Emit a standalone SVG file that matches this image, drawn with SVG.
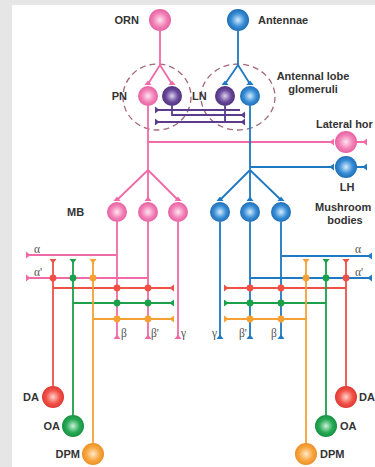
<svg xmlns="http://www.w3.org/2000/svg" xmlns:xlink="http://www.w3.org/1999/xlink" width="375" height="467" viewBox="0 0 375 467">
<defs>
<radialGradient id="gP" cx="50%" cy="50%" r="55%"><stop offset="0" stop-color="#fde6f1"/><stop offset="0.55" stop-color="#f383b8"/><stop offset="1" stop-color="#e2579c"/></radialGradient>
<radialGradient id="gB" cx="50%" cy="50%" r="55%"><stop offset="0" stop-color="#d6ebff"/><stop offset="0.55" stop-color="#3a8fd6"/><stop offset="1" stop-color="#1663ae"/></radialGradient>
<radialGradient id="gU" cx="50%" cy="50%" r="55%"><stop offset="0" stop-color="#ddd2ee"/><stop offset="0.55" stop-color="#6b4b9c"/><stop offset="1" stop-color="#472a78"/></radialGradient>
<radialGradient id="gR" cx="50%" cy="50%" r="55%"><stop offset="0" stop-color="#ffd6cc"/><stop offset="0.55" stop-color="#f2554b"/><stop offset="1" stop-color="#d8302a"/></radialGradient>
<radialGradient id="gG" cx="50%" cy="50%" r="55%"><stop offset="0" stop-color="#cdf1d8"/><stop offset="0.55" stop-color="#2aab58"/><stop offset="1" stop-color="#0f8a3a"/></radialGradient>
<radialGradient id="gO" cx="50%" cy="50%" r="55%"><stop offset="0" stop-color="#ffe9c8"/><stop offset="0.55" stop-color="#f8a843"/><stop offset="1" stop-color="#e8891c"/></radialGradient>
<path id="cap" d="M0,-3.5 L0,3.5 L-4.5,0 Z"/>
</defs>
<style>
.lbl{font-family:"Liberation Sans",Arial,sans-serif;font-weight:bold;font-size:11px;fill:#333}
.gk{font-family:"Liberation Serif","Times New Roman",serif;font-size:11.5px;fill:#555}
.ln{fill:none;stroke-width:1.8}
.p{stroke:#ef6aa7}.pf{fill:#ef6aa7}
.b{stroke:#1e78c2}.bf{fill:#1e78c2}
.u{stroke:#5a3b8c}.uf{fill:#5a3b8c}
.r{stroke:#ee5046}.rf{fill:#ee5046}
.g{stroke:#1ca04a}.gf{fill:#1ca04a}
.o{stroke:#f7a033}.of{fill:#f7a033}
.dash{fill:none;stroke:#a4677f;stroke-width:1.3;stroke-dasharray:6 4}
</style>
<rect x="0" y="0" width="375" height="467" fill="#e6e6e6"/>
<rect x="12" y="5" width="363" height="462" fill="#ffffff"/>

<g id="glomeruli">
<ellipse class="dash" cx="157" cy="97" rx="34" ry="33"/>
<ellipse class="dash" cx="238" cy="97" rx="37" ry="33"/>
</g>

<g id="connectors">
<path class="ln p" d="M160,31 V65 L148,84 M160,65 L172,84"/>
<use href="#cap" class="pf" transform="translate(148,85) rotate(90)"/>
<use href="#cap" class="pf" transform="translate(172,85) rotate(90)"/>
<path class="ln b" d="M238,31 V65 L225,84 M238,65 L250,84"/>
<use href="#cap" class="bf" transform="translate(225,85) rotate(90)"/>
<use href="#cap" class="bf" transform="translate(250,85) rotate(90)"/>
<path class="ln u" d="M156,110 H240 M172,106 V115 H244 M225,106 V122 M156,122 H244"/>
<use href="#cap" class="uf" transform="translate(155,110) rotate(180)"/>
<use href="#cap" class="uf" transform="translate(155,122) rotate(180)"/>
<use href="#cap" class="uf" transform="translate(245,115)"/>
<use href="#cap" class="uf" transform="translate(245,122)"/>
<path class="ln p" d="M148,106 V170 M148,142 H332 M357,142 H366 M148,170 L117,200 M148,170 V200 M148,170 L178,200"/>
<use href="#cap" class="pf" transform="translate(334,142)"/>
<use href="#cap" class="pf" transform="translate(367,142)"/>
<use href="#cap" class="pf" transform="translate(117,201) rotate(90)"/>
<use href="#cap" class="pf" transform="translate(148,201) rotate(90)"/>
<use href="#cap" class="pf" transform="translate(178,201) rotate(90)"/>
<path class="ln b" d="M250,106 V170 M250,167 H332 M357,167 H366 M250,170 L220,200 M250,170 V200 M250,170 L281,200"/>
<use href="#cap" class="bf" transform="translate(334,167)"/>
<use href="#cap" class="bf" transform="translate(367,167)"/>
<use href="#cap" class="bf" transform="translate(220,201) rotate(90)"/>
<use href="#cap" class="bf" transform="translate(250,201) rotate(90)"/>
<use href="#cap" class="bf" transform="translate(281,201) rotate(90)"/>
<path class="ln p" d="M117,222 V337 M117,255 H28 M148,222 V337 M148,278 H28 M178,222 V337"/>
<use href="#cap" class="pf" transform="translate(26,255) rotate(180)"/>
<use href="#cap" class="pf" transform="translate(26,278) rotate(180)"/>
<use href="#cap" class="pf" transform="translate(117,339) rotate(90)"/>
<use href="#cap" class="pf" transform="translate(148,339) rotate(90)"/>
<use href="#cap" class="pf" transform="translate(178,339) rotate(90)"/>
<path class="ln b" d="M220,222 V337 M250,222 V337 M250,278 H370 M281,222 V337 M281,256 H370"/>
<use href="#cap" class="bf" transform="translate(372,256)"/>
<use href="#cap" class="bf" transform="translate(372,278)"/>
<use href="#cap" class="bf" transform="translate(220,339) rotate(90)"/>
<use href="#cap" class="bf" transform="translate(250,339) rotate(90)"/>
<use href="#cap" class="bf" transform="translate(281,339) rotate(90)"/>
<path class="ln r" d="M53,260 V386 M53,288 H172"/>
<path class="ln g" d="M73,260 V415 M73,303 H172"/>
<path class="ln o" d="M93,260 V443 M93,319 H172"/>
<use href="#cap" class="rf" transform="translate(53,259) rotate(-90)"/>
<use href="#cap" class="gf" transform="translate(73,259) rotate(-90)"/>
<use href="#cap" class="of" transform="translate(93,259) rotate(-90)"/>
<use href="#cap" class="rf" transform="translate(174,288)"/>
<use href="#cap" class="gf" transform="translate(174,303)"/>
<use href="#cap" class="of" transform="translate(174,319)"/>
<path class="ln r" d="M346,260 V386 M346,288 H226"/>
<path class="ln g" d="M326,260 V415 M326,303 H226"/>
<path class="ln o" d="M306,260 V443 M306,319 H226"/>
<use href="#cap" class="rf" transform="translate(346,259) rotate(-90)"/>
<use href="#cap" class="gf" transform="translate(326,259) rotate(-90)"/>
<use href="#cap" class="of" transform="translate(306,259) rotate(-90)"/>
<use href="#cap" class="rf" transform="translate(224,288) rotate(180)"/>
<use href="#cap" class="gf" transform="translate(224,303) rotate(180)"/>
<use href="#cap" class="of" transform="translate(224,319) rotate(180)"/>
<g>
<circle cx="53" cy="278" r="3.4" class="rf"/><circle cx="117" cy="288" r="3.4" class="rf"/><circle cx="148" cy="288" r="3.4" class="rf"/>
<circle cx="73" cy="278" r="3.4" class="gf"/><circle cx="117" cy="303" r="3.4" class="gf"/><circle cx="148" cy="303" r="3.4" class="gf"/>
<circle cx="93" cy="278" r="3.4" class="of"/><circle cx="117" cy="319" r="3.4" class="of"/><circle cx="148" cy="319" r="3.4" class="of"/>
<circle cx="346" cy="278" r="3.4" class="rf"/><circle cx="250" cy="288" r="3.4" class="rf"/><circle cx="281" cy="288" r="3.4" class="rf"/>
<circle cx="326" cy="278" r="3.4" class="gf"/><circle cx="250" cy="303" r="3.4" class="gf"/><circle cx="281" cy="303" r="3.4" class="gf"/>
<circle cx="306" cy="278" r="3.4" class="of"/><circle cx="250" cy="319" r="3.4" class="of"/><circle cx="281" cy="319" r="3.4" class="of"/>
</g>
</g>

<g id="ORN"><circle cx="160" cy="20" r="11" fill="url(#gP)"/><text class="lbl" x="139" y="24" text-anchor="end">ORN</text></g>
<g id="Antennae"><circle cx="238" cy="20" r="11" fill="url(#gB)"/><text class="lbl" x="258" y="24">Antennae</text></g>
<g id="PN"><circle cx="148" cy="96" r="10" fill="url(#gP)"/><text class="lbl" x="127" y="100" text-anchor="end">PN</text></g>
<g id="LN"><circle cx="172" cy="96" r="10" fill="url(#gU)"/><circle cx="225" cy="96" r="10" fill="url(#gU)"/><text class="lbl" x="192" y="100">LN</text></g>
<g id="PN-blue"><circle cx="250" cy="96" r="10" fill="url(#gB)"/></g>
<g id="AL-label"><text class="lbl" x="313" y="80" text-anchor="middle">Antennal lobe</text><text class="lbl" x="313" y="93" text-anchor="middle">glomeruli</text></g>
<g id="LH-pink"><circle cx="346" cy="142" r="11" fill="url(#gP)"/><text class="lbl" x="316" y="128">Lateral hor</text></g>
<g id="LH-blue"><circle cx="346" cy="167" r="11" fill="url(#gB)"/><text class="lbl" x="347" y="191" text-anchor="middle">LH</text></g>
<g id="MB-pink"><circle cx="117" cy="212" r="10" fill="url(#gP)"/><circle cx="148" cy="212" r="10" fill="url(#gP)"/><circle cx="178" cy="212" r="10" fill="url(#gP)"/><text class="lbl" x="67" y="216">MB</text></g>
<g id="MB-blue"><circle cx="220" cy="212" r="10" fill="url(#gB)"/><circle cx="250" cy="212" r="10" fill="url(#gB)"/><circle cx="281" cy="212" r="10" fill="url(#gB)"/><text class="lbl" x="315" y="211">Mushroom</text><text class="lbl" x="345" y="224" text-anchor="middle">bodies</text></g>

<g id="lobe-labels">
<text class="gk" x="34" y="253">α</text><text class="gk" x="34" y="276">α'</text>
<text class="gk" x="121" y="337">β</text><text class="gk" x="151" y="337">β'</text><text class="gk" x="181" y="337">γ</text>
<text class="gk" x="212" y="337">γ</text><text class="gk" x="239" y="337">β'</text><text class="gk" x="271" y="337">β</text>
<text class="gk" x="355" y="253">α</text><text class="gk" x="355" y="276">α'</text>
</g>

<g id="DA-left"><circle cx="53" cy="397" r="11" fill="url(#gR)"/><text class="lbl" x="39" y="401" text-anchor="end">DA</text></g>
<g id="OA-left"><circle cx="73" cy="426" r="11" fill="url(#gG)"/><text class="lbl" x="60" y="430" text-anchor="end">OA</text></g>
<g id="DPM-left"><circle cx="93" cy="454" r="11" fill="url(#gO)"/><text class="lbl" x="80" y="458" text-anchor="end">DPM</text></g>
<g id="DA-right"><circle cx="346" cy="397" r="11" fill="url(#gR)"/><text class="lbl" x="359" y="401">DA</text></g>
<g id="OA-right"><circle cx="326" cy="426" r="11" fill="url(#gG)"/><text class="lbl" x="340" y="430">OA</text></g>
<g id="DPM-right"><circle cx="306" cy="454" r="11" fill="url(#gO)"/><text class="lbl" x="320" y="458">DPM</text></g>
</svg>
